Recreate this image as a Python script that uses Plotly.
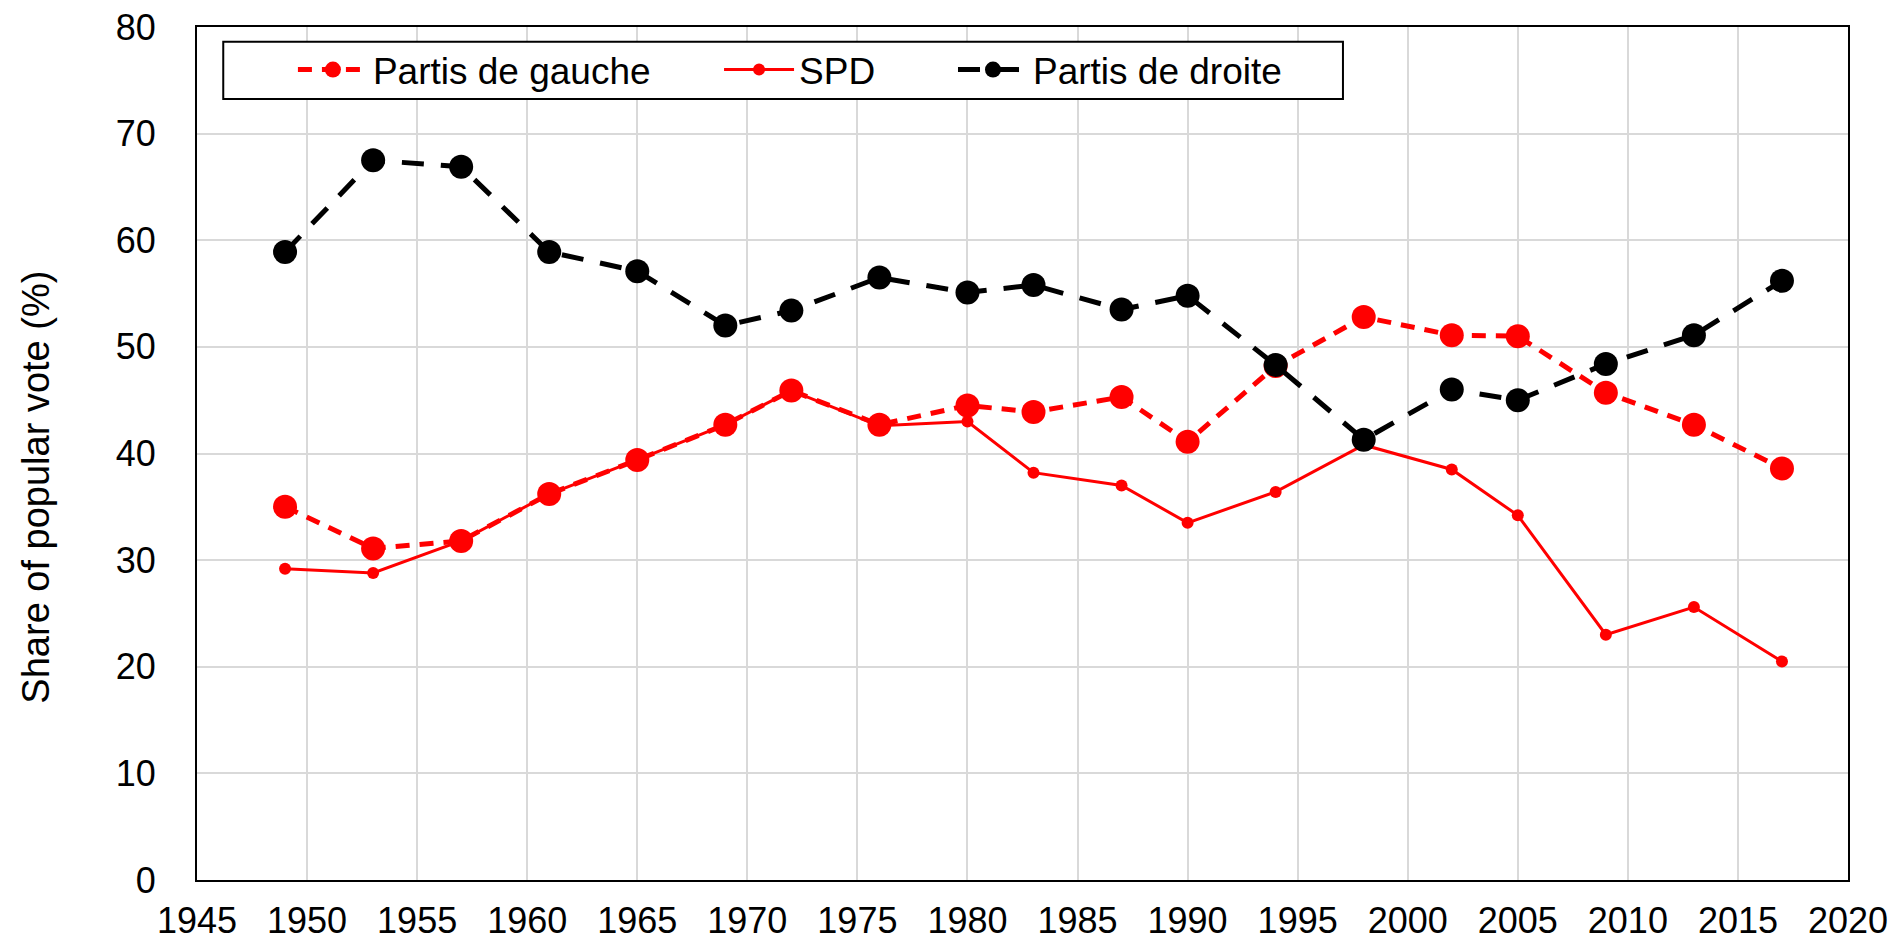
import plotly.graph_objects as go

years = [1949, 1953, 1957, 1961, 1965, 1969, 1972, 1976, 1980, 1983, 1987, 1990,
         1994, 1998, 2002, 2005, 2009, 2013, 2017]
gauche = [35.0, 31.1, 31.8, 36.2, 39.4, 42.7, 45.9, 42.7, 44.5, 43.9, 45.3, 41.1,
          48.2, 52.8, 51.1, 51.0, 45.7, 42.7, 38.6]
spd = [29.2, 28.8, 31.8, 36.2, 39.4, 42.7, 45.9, 42.6, 43.0, 38.2, 37.0, 33.5,
       36.4, 40.8, 38.5, 34.2, 23.0, 25.6, 20.5]
droite = [58.9, 67.5, 66.9, 58.9, 57.1, 52.0, 53.4, 56.5, 55.1, 55.8, 53.5, 54.8,
          48.3, 41.3, 46.0, 45.0, 48.4, 51.1, 56.2]

x_ticks = list(range(1945, 2021, 5))
y_ticks = list(range(0, 81, 10))

FONT = "Liberation Sans, Arial, sans-serif"

fig = go.Figure()
fig.add_trace(go.Scatter(
    x=years, y=gauche, name="Partis de gauche", mode="lines+markers",
    line=dict(color="#FF0000", width=5, dash="14px,10px"),
    marker=dict(color="#FF0000", size=24), legend="legend"))
fig.add_trace(go.Scatter(
    x=years, y=spd, name="SPD", mode="lines+markers",
    line=dict(color="#FF0000", width=3),
    marker=dict(color="#FF0000", size=12), legend="legend2"))
fig.add_trace(go.Scatter(
    x=years, y=droite, name="Partis de droite", mode="lines+markers",
    line=dict(color="#000000", width=5, dash="22px,17px"),
    marker=dict(color="#000000", size=24), legend="legend3"))

leg_common = dict(font=dict(family=FONT, size=37, color="#000"),
                  bgcolor="rgba(0,0,0,0)", borderwidth=0,
                  yanchor="middle", y=0.9496, xanchor="left",
                  itemwidth=70)

fig.update_layout(
    width=1894, height=941,
    margin=dict(l=197, r=46, t=27, b=61, autoexpand=False),
    paper_bgcolor="white", plot_bgcolor="white",
    font=dict(family=FONT, size=36, color="#000"),
    xaxis=dict(range=[1945, 2020], tickvals=x_ticks, ticktext=[str(v) for v in x_ticks],
               showgrid=True, gridcolor="#d9d9d9", gridwidth=1.5,
               showline=True, linecolor="#000", linewidth=2, mirror=True,
               ticks="", zeroline=False, ticklabelstandoff=8,
               automargin=False, ticklabeloverflow="allow",
               tickfont=dict(family=FONT, size=36)),
    yaxis=dict(range=[0, 80], tickvals=y_ticks, ticktext=[str(v) for v in y_ticks],
               showgrid=True, gridcolor="#d9d9d9", gridwidth=1.5,
               showline=True, linecolor="#000", linewidth=2, mirror=True,
               ticks="", zeroline=False, ticklabelstandoff=32,
               automargin=False, ticklabeloverflow="allow",
               tickfont=dict(family=FONT, size=36)),
    legend=dict(x=0.0581, **leg_common),
    legend2=dict(x=0.3162, **leg_common),
    legend3=dict(x=0.4579, **leg_common),
    showlegend=True,
    shapes=[dict(type="rect", xref="paper", yref="paper",
                 x0=0.0159, x1=0.6941, y0=0.9156, y1=0.9828,
                 line=dict(color="#000", width=2), fillcolor="white", layer="above")],
    annotations=[dict(text="Share of popular vote (%)", xref="paper", yref="paper",
                      x=-0.0976, y=0.461, xanchor="center", yanchor="middle",
                      textangle=-90, showarrow=False,
                      font=dict(family=FONT, size=38, color="#000"))],
)

fig.write_html("out.html",
               config={"displayModeBar": False},
               post_script="document.body.style.margin='0';document.body.style.overflow='hidden';")
